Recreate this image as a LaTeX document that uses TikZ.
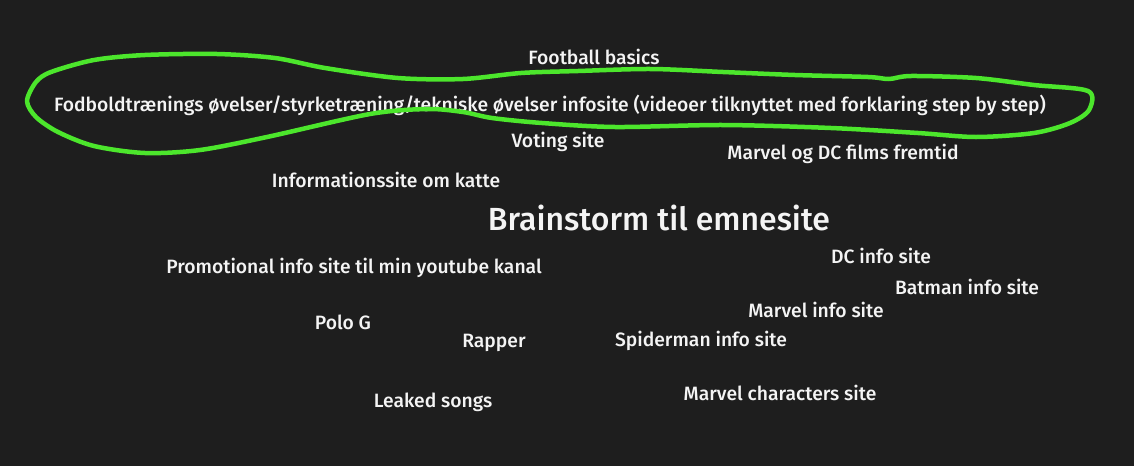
\documentclass[tikz,border=0pt]{standalone}
\usepackage{fontspec}
\setmainfont{Fira Sans}[UprightFont=* Medium, BoldFont=* SemiBold]
\definecolor{BoardBg}{HTML}{1E1E1E}
\definecolor{MarkerGreen}{HTML}{4CE62C}
\definecolor{NoteWhite}{HTML}{F4F4F4}

\begin{document}
\begin{tikzpicture}[
  x=1pt, y=-1pt,
  idea/.style={text=NoteWhite, inner sep=0pt, anchor=base,
    font=\fontsize{19.3}{22}\selectfont},
  heading/.style={idea, font=\fontsize{32}{36}\selectfont},
  marker/.style={draw=MarkerGreen, line width=4.5pt, line cap=round, line join=round}
]
  % board
  \fill[BoardBg] (0,0) rectangle (1134,466);
  \useasboundingbox (0,0) rectangle (1134,466);

  % ideas
  \node[idea] (football) at (594,64) {Football basics};
  \node[idea] (fodbold) at (550,111) {Fodboldtrænings øvelser/styrketræning/tekniske øvelser infosite (videoer tilknyttet med forklaring step by step)};
  \node[idea] (voting) at (558,147) {Voting site};
  \node[idea] (marvelfilms) at (843,159) {Marvel og DC films fremtid};
  \node[idea] (katte) at (386,187) {Informationssite om katte};
  \node[heading] (title) at (659,230) {Brainstorm til emnesite};
  \node[idea] (dcinfo) at (881,263) {DC info site};
  \node[idea] (promo) at (354,273) {Promotional info site til min youtube kanal};
  \node[idea] (batman) at (967,294) {Batman info site};
  \node[idea] (marvelinfo) at (816,317) {Marvel info site};
  \node[idea] (polog) at (343,329) {Polo G};
  \node[idea] (rapper) at (494,347) {Rapper};
  \node[idea] (spiderman) at (701,346) {Spiderman info site};
  \node[idea] (leaked) at (433,407) {Leaked songs};
  \node[idea] (marvelchars) at (780,400) {Marvel characters site};

  % green loop round the football idea
  \draw[marker] plot[smooth cycle, tension=0.5] coordinates {
    (27,101) (36,82) (51,72) (94,60) (145,55) (217,54) (275,58) (325,68)
    (398,78) (463,79) (521,73) (578,71) (651,69) (723,72) (795,75)
    (868,77) (889,79) (911,76) (976,78) (1034,85) (1088,91) (1089,110)
    (1070,123) (1034,133) (976,137) (918,133) (831,128) (723,125)
    (615,127) (542,123) (492,118) (463,112) (427,109) (370,114)
    (267,137) (200,150) (145,153) (94,146) (58,132) (36,117)};
\end{tikzpicture}
\end{document}
